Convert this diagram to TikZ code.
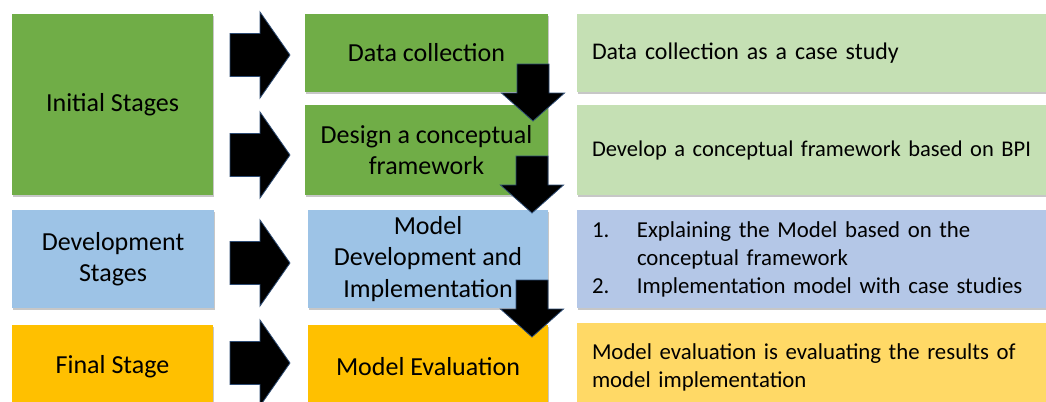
\documentclass[tikz,border=0pt]{standalone}
\usepackage{fontspec}
\setmainfont{Carlito}
\usetikzlibrary{shadows}
\definecolor{dgreen}{HTML}{70AD47}
\definecolor{lgreen}{HTML}{C5E0B4}
\definecolor{lblue}{HTML}{9DC3E6}
\definecolor{rblue}{HTML}{B4C7E7}
\definecolor{orng}{HTML}{FFC000}
\definecolor{lyell}{HTML}{FFD966}
\definecolor{glow}{RGB}{45,75,115}
\begin{document}
\begin{tikzpicture}[x=1bp,y=-1bp,
  box/.style={rectangle, inner sep=0pt, align=center,
    drop shadow={shadow xshift=1bp, shadow yshift=-2bp, fill=black, opacity=0.22}},
  bigtxt/.style={font=\fontsize{26bp}{31.5bp}\selectfont},
  rtxt/.style={align=left, text width=453bp, inner xsep=15bp, inner ysep=0pt,
    font=\fontsize{22.8bp}{28bp}\selectfont},
  blockarrow/.style={fill=black, draw=glow, line width=0.8bp, line join=miter},
  rarr/.pic={\path[blockarrow] (-60,-21.5) -- (-30,-21.5) -- (-30,-43) -- (0,0)
      -- (-30,43) -- (-30,21.5) -- (-60,21.5) -- cycle;},
  darr/.pic={\path[blockarrow] (-16,-57) -- (16,-57) -- (16,-28) -- (31.5,-28) -- (0,0)
      -- (-31.5,-28) -- (-16,-28) -- cycle;}
]
\clip (0,0) rectangle (1046,401);
\fill[white] (0,0) rectangle (1046,401);
% left column
\node[box, bigtxt, fill=dgreen, minimum width=201bp, minimum height=181bp] (init) at (112.5,104.5) {Initial Stages};
\node[box, bigtxt, fill=lblue, minimum width=202bp, minimum height=98bp] (dev) at (113,259) {Development\\Stages};
\node[box, bigtxt, fill=orng, minimum width=201bp, minimum height=84bp] (final) at (112.5,367) {Final Stage};
% middle column
\node[box, bigtxt, fill=dgreen, minimum width=243bp, minimum height=78bp] (datac) at (426.5,53) {Data collection};
\node[box, bigtxt, fill=dgreen, minimum width=243bp, minimum height=90bp] (design) at (426.5,150) {Design a conceptual\\framework};
\node[box, bigtxt, fill=lblue, minimum width=240bp, minimum height=98bp] (mdev) at (428,259) {Model\\Development and\\Implementation};
\node[box, bigtxt, fill=orng, minimum width=240bp, minimum height=84bp] (meval) at (428,367) {Model Evaluation};
% right column
\node[box, rtxt, fill=lgreen, minimum width=483bp, minimum height=78bp, font=\fontsize{23.9bp}{29bp}\selectfont] (r1) at (818.5,53) {Data collection as a case study};
\node[box, rtxt, fill=lgreen, minimum width=483bp, minimum height=90bp, font=\fontsize{22.5bp}{28bp}\selectfont] (r2) at (818.5,150) {Develop a conceptual framework based on BPI};
\node[box, rtxt, fill=rblue, minimum width=483bp, minimum height=98bp] (r3) at (818.5,259)
  {\makebox[45bp][l]{1.}Explaining the Model based on the\\\hspace*{45bp}conceptual framework\\\makebox[45bp][l]{2.}Implementation model with case studies};
\node[box, rtxt, fill=lyell, minimum width=483bp, minimum height=88bp] (r4) at (818.5,367)
  {Model evaluation is evaluating the results of\\model implementation};
% right block arrows
\pic at (290,55) {rarr};
\pic at (290,155) {rarr};
\pic at (290,263) {rarr};
\pic at (290,363) {rarr};
% down block arrows
\pic at (533,121) {darr};
\pic at (532,213) {darr};
\pic at (532,337) {darr};
\end{tikzpicture}
\end{document}
